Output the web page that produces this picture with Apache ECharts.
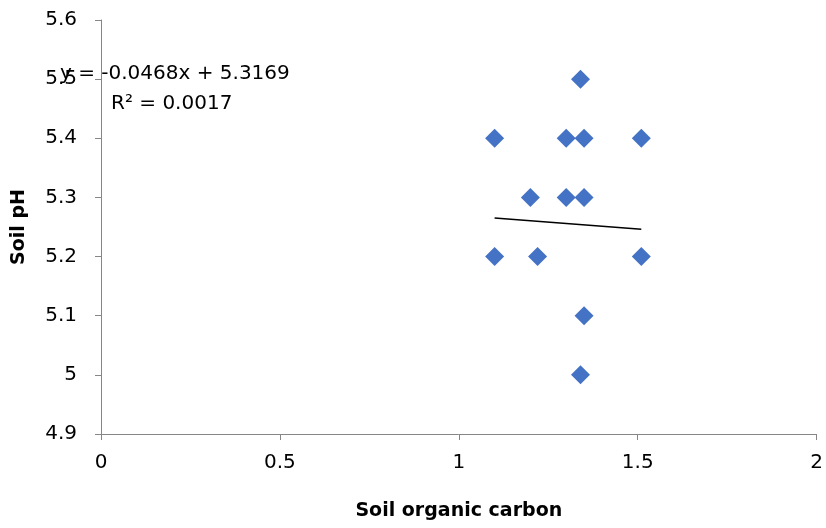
<!DOCTYPE html>
<html><head><meta charset="utf-8">
<script src="https://cdn.jsdelivr.net/npm/echarts@6/dist/echarts.min.js"></script>
<style>html,body{margin:0;padding:0;background:#fff}#c{width:826px;height:528px}</style>
</head><body><div id="c"></div>
<script>
var carbon = [1.10, 1.34, 1.30, 1.35, 1.51, 1.20, 1.30, 1.35, 1.10, 1.22, 1.51, 1.35, 1.34];
var ph     = [5.4,  5.5,  5.4,  5.4,  5.4,  5.3,  5.3,  5.3,  5.2,  5.2,  5.2,  5.1,  5.0];
var trendSlope = -0.0468;
var trendIntercept = 5.3169;
var equationText = 'y = -0.0468x + 5.3169';
var r2Text = 'R² = 0.0017';
var xTicks = [0, 0.5, 1, 1.5, 2];
var yTicks = [4.9, 5.0, 5.1, 5.2, 5.3, 5.4, 5.5, 5.6];

var pts = carbon.map(function(x,i){return [x, ph[i]];});
var xmin = Math.min.apply(null, carbon), xmax = Math.max.apply(null, carbon);
var trend = [[xmin, trendSlope*xmin+trendIntercept],[xmax, trendSlope*xmax+trendIntercept]];

var font = 'DejaVu Sans';
var chart = echarts.init(document.getElementById('c'));
chart.setOption({
  animation:false,
  backgroundColor:'#fff',
  grid:{left:101, right:9, top:20, bottom:94},
  xAxis:{type:'value', min:0, max:2, interval:0.5,
    name:'Soil organic carbon', nameLocation:'middle', nameGap:68,
    nameTextStyle:{fontFamily:font, fontWeight:'bold', fontSize:19, color:'#000'},
    axisLine:{lineStyle:{color:'#868686', width:1}},
    axisTick:{show:true, length:6, lineStyle:{color:'#868686'}},
    axisLabel:{fontFamily:font, fontSize:20, color:'#000', margin:19,
      formatter:function(v){return String(v);}},
    splitLine:{show:false}},
  yAxis:{type:'value', min:4.9, max:5.6, interval:0.1,
    name:'Soil pH', nameLocation:'middle', nameGap:72, nameRotate:90,
    nameTextStyle:{fontFamily:font, fontWeight:'bold', fontSize:19, color:'#000'},
    axisLine:{show:true, lineStyle:{color:'#868686', width:1}},
    axisTick:{show:true, length:6, lineStyle:{color:'#868686'}},
    axisLabel:{fontFamily:font, fontSize:20, color:'#000', margin:24,
      formatter:function(v){var r=Math.round(v*10)/10; return r===5?'5':r.toFixed(1);}},
    splitLine:{show:false}},
  series:[
    {type:'scatter', data:pts, symbol:'diamond', symbolSize:[19,19],
      itemStyle:{color:'#4472C4', opacity:1}, z:3},
    {type:'line', data:trend, symbol:'none', lineStyle:{color:'#000', width:1.5}, z:2}
  ],
  graphic:[
    {type:'text', left:60, top:64, style:{text:equationText, fontFamily:font, fontSize:20, fill:'#000'}},
    {type:'text', left:111, top:94, style:{text:r2Text, fontFamily:font, fontSize:20, fill:'#000'}}
  ]
});
</script></body></html>
